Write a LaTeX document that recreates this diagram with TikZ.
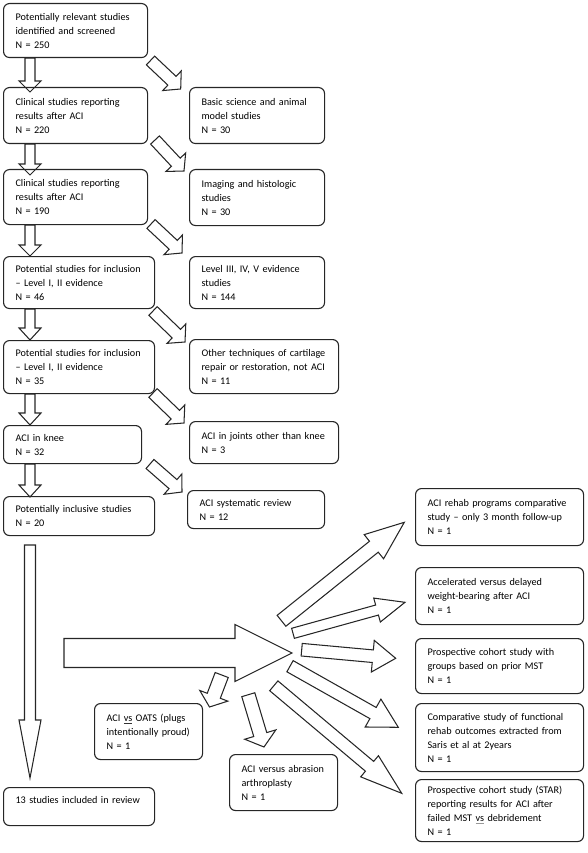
\documentclass[tikz,border=0pt]{standalone}
\usepackage{fontspec}
\setmainfont{Carlito}
\usetikzlibrary{calc}
\newcommand\bodyfont{\fontsize{10.2}{14}\selectfont}
\newcommand\spellul[2]{\setbox0\hbox{#2}\rlap{\textcolor{#1}{\rule[-2.2pt]{\wd0}{0.6pt}}}\box0\relax}
\newcommand\blockarrow[5]{%
  \draw[blk] let \p1=(#1), \p2=(#2),
    \n1={atan2(\y2-\y1,\x2-\x1)}, \n2={veclen(\x2-\x1,\y2-\y1)} in
    [shift={(\p1)}, rotate=\n1]
    (0pt,#3) -- (\n2-#5,#3) -- (\n2-#5,#4) -- (\n2,0pt) -- (\n2-#5,-#4) -- (\n2-#5,-#3) -- (0pt,-#3) -- cycle;}
\tikzset{
  bx/.style={draw=black!85, line width=1.1pt, rounded corners=6pt, anchor=north west,
    inner xsep=12pt, inner ysep=0pt, align=left, font=\bodyfont, text=black},
  blk/.style={draw=black!85, line width=1.05pt, line join=miter},
}
\begin{document}
\begin{tikzpicture}[x=1pt, y=-1pt]
\useasboundingbox (0,0) rectangle (587,853);
% left column
\node[bx, minimum width=144pt, minimum height=54pt, text width=120pt] (b1) at (3,3) {Potentially relevant studies\\identified and screened\\N = 250};
\node[bx, minimum width=144pt, minimum height=56pt, text width=120pt] (b2) at (3,87) {Clinical studies reporting\\results after ACI\\N = 220};
\node[bx, minimum width=144pt, minimum height=55pt, text width=120pt] (b3) at (3,169) {Clinical studies reporting\\results after ACI\\N = 190};
\node[bx, minimum width=151pt, minimum height=52pt, text width=127pt] (b4) at (3,256) {Potential studies for inclusion\\– Level I, II evidence\\N = 46};
\node[bx, minimum width=151pt, minimum height=53pt, text width=127pt] (b5) at (3,340) {Potential studies for inclusion\\– Level I, II evidence\\N = 35};
\node[bx, minimum width=138pt, minimum height=38pt, text width=114pt] (b6) at (3,425) {ACI in knee\\N = 32};
\node[bx, minimum width=151pt, minimum height=39pt, text width=127pt] (b7) at (3,496) {Potentially inclusive studies\\N = 20};
\node[bx, minimum width=151pt, minimum height=38pt, text width=127pt] (b8) at (3,787) {13 studies included in review\\\mbox{}};
% middle column
\node[bx, minimum width=135pt, minimum height=56pt, text width=111pt] (c1) at (189,87) {Basic science and animal\\model studies\\N = 30};
\node[bx, minimum width=135pt, minimum height=56pt, text width=111pt] (c2) at (189,169) {Imaging and histologic\\studies\\N = 30};
\node[bx, minimum width=135pt, minimum height=52pt, text width=111pt] (c3) at (189,256) {Level III, IV, V evidence\\studies\\N = 144};
\node[bx, minimum width=149pt, minimum height=54pt, text width=125pt] (c4) at (189,339) {Other techniques of cartilage\\repair or restoration, not ACI\\N = 11};
\node[bx, minimum width=149pt, minimum height=42pt, text width=125pt] (c5) at (189,421) {ACI in joints other than knee\\N = 3};
\node[bx, minimum width=137pt, minimum height=38pt, text width=113pt] (c6) at (187,490) {ACI systematic review\\N = 12};
% right column
\node[bx, minimum width=168pt, minimum height=57pt, text width=144pt] (r1) at (415,488) {ACI rehab programs comparative\\study – only 3 month follow-up\\N = 1};
\node[bx, minimum width=168pt, minimum height=57pt, text width=144pt] (r2) at (415,567) {Accelerated versus delayed\\weight-bearing after ACI\\N = 1};
\node[bx, minimum width=168pt, minimum height=55pt, text width=144pt] (r3) at (415,638) {Prospective cohort study with\\groups based on prior MST\\N = 1};
\node[bx, minimum width=168pt, minimum height=68pt, text width=144pt] (r4) at (415,703) {Comparative study of functional\\rehab outcomes extracted from\\Saris et al at 2years\\N = 1};
\node[bx, minimum width=168pt, minimum height=62pt, text width=144pt] (r5) at (415,779) {Prospective cohort study (STAR)\\reporting results for ACI after\\failed MST \spellul{black!40}{vs} debridement\\N = 1};
% lower boxes
\node[bx, minimum width=108pt, minimum height=56pt, text width=84pt] (oats) at (94,703) {ACI \spellul{black!80}{vs} OATS (plugs\\intentionally proud)\\N = 1};
\node[bx, minimum width=108pt, minimum height=56pt, text width=84pt] (abr) at (229,754) {ACI versus abrasion\\arthroplasty\\N = 1};

% vertical arrows
\coordinate (vx) at (30,0);
\blockarrow{b1.south -| vx}{$(b2.north -| vx)+(0,5)$}{5pt}{11pt}{11pt}
\blockarrow{b2.south -| vx}{$(b3.north -| vx)+(0,6)$}{5pt}{11pt}{11pt}
\blockarrow{b3.south -| vx}{b4.north -| vx}{5pt}{11pt}{11pt}
\blockarrow{b4.south -| vx}{b5.north -| vx}{5pt}{11pt}{12pt}
\blockarrow{b5.south -| vx}{b6.north -| vx}{5pt}{11pt}{12pt}
\blockarrow{b6.south -| vx}{$(b7.north -| vx)+(0,1)$}{5pt}{11pt}{12pt}
\coordinate (la0) at (30,545);
\coordinate (la1) at (30,778);
\blockarrow{la0}{la1}{5.5pt}{11pt}{58pt}

% diagonal arrows
\coordinate (d1a) at (150.5,60.5); \coordinate (d1b) at (180.7,89);
\coordinate (d2a) at (155,140);    \coordinate (d2b) at (184,171);
\coordinate (d3a) at (151,224);    \coordinate (d3b) at (182,253);
\coordinate (d4a) at (153,311);    \coordinate (d4b) at (185,342);
\coordinate (d5a) at (153,393);    \coordinate (d5b) at (184,423);
\coordinate (d6a) at (150,464);    \coordinate (d6b) at (182,492);
\foreach \i in {1,...,6}{\blockarrow{d\i a}{d\i b}{6pt}{13.5pt}{12pt}}

% big arrow to hub
\coordinate (h0) at (64,653);
\coordinate (hub) at (292,653);
\blockarrow{h0}{hub}{14.5pt}{28.5pt}{57pt}

% fan arrows
\coordinate (f1a) at (281.5,620.8); \coordinate (f1b) at (404.3,522.3);
\coordinate (f2a) at (293,633.3);   \coordinate (f2b) at (405,602.3);
\coordinate (f3a) at (301.7,649.7); \coordinate (f3b) at (395.7,658.3);
\coordinate (f4a) at (290,666.2);   \coordinate (f4b) at (398.3,727.3);
\coordinate (f5a) at (273.8,685.8); \coordinate (f5b) at (401.7,793.3);
\blockarrow{f1a}{f1b}{7pt}{15.5pt}{39pt}
\blockarrow{f2a}{f2b}{5.2pt}{12.4pt}{29pt}
\blockarrow{f3a}{f3b}{6.3pt}{15.9pt}{23pt}
\blockarrow{f4a}{f4b}{6.4pt}{16pt}{29pt}
\blockarrow{f5a}{f5b}{6.4pt}{13.8pt}{42pt}
\coordinate (o1) at (221.7,675); \coordinate (o2) at (209.5,707);
\blockarrow{o1}{o2}{7pt}{15pt}{12pt}
\coordinate (a1) at (248.3,694.7); \coordinate (a2) at (264,747);
\blockarrow{a1}{a2}{6.8pt}{16.3pt}{13pt}
\end{tikzpicture}
\end{document}
